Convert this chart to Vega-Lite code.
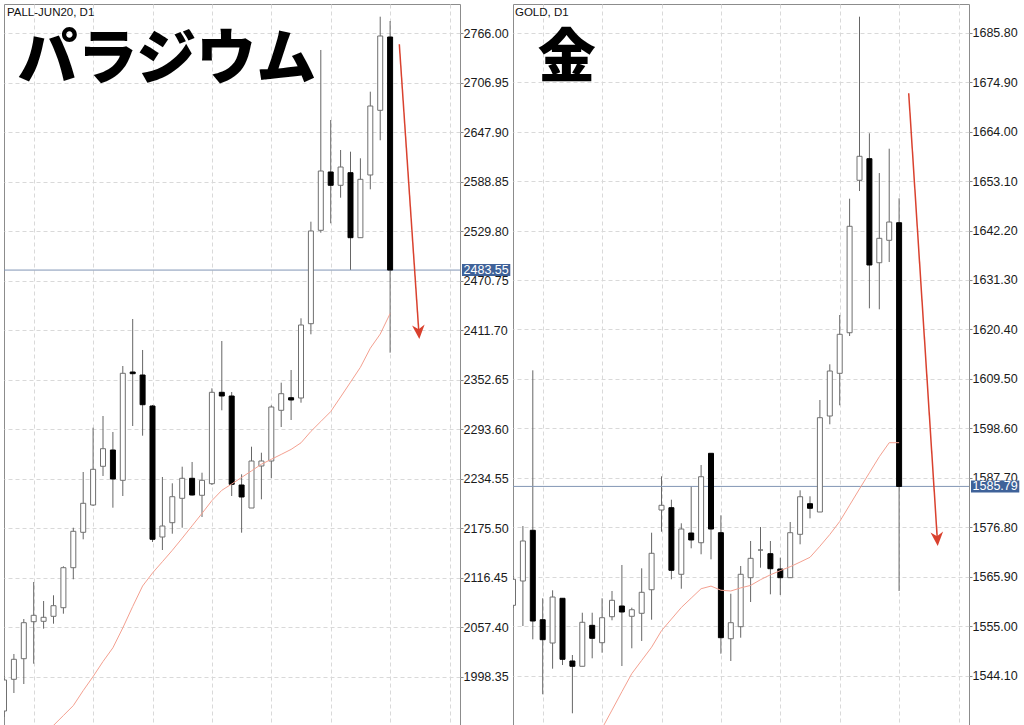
{
  "$schema": "https://vega.github.io/schema/vega-lite/v6.json",
  "background": "white",
  "padding": {"left": 3, "top": 3, "right": 0, "bottom": 0},
  "bounds": "flush",
  "spacing": 53,
  "config": {"view": {"stroke": "#8c8c8c", "strokeWidth": 1}, "scale": {"continuousPadding": 0}},
  "datasets": {
    "pall": [
      {"i":1,"o":1957.55,"h":1999.30,"l":1950.39,"c":1994.54,"d":"up"},
      {"i":2,"o":1995.37,"h":2025.55,"l":1979.02,"c":2019.22,"d":"up"},
      {"i":3,"o":2019.94,"h":2067.30,"l":1989.76,"c":2062.89,"d":"up"},
      {"i":4,"o":2064.08,"h":2111.44,"l":2013.98,"c":2071.71,"d":"up"},
      {"i":5,"o":2064.56,"h":2088.77,"l":2055.73,"c":2069.33,"d":"up"},
      {"i":6,"o":2070.52,"h":2095.57,"l":2061.69,"c":2083.17,"d":"up"},
      {"i":7,"o":2080.78,"h":2130.17,"l":2073.62,"c":2128.50,"d":"up"},
      {"i":8,"o":2128.50,"h":2176.21,"l":2114.66,"c":2171.92,"d":"up"},
      {"i":9,"o":2170.73,"h":2242.66,"l":2162.38,"c":2205.32,"d":"up"},
      {"i":10,"o":2203.29,"h":2295.51,"l":2202.10,"c":2245.88,"d":"up"},
      {"i":11,"o":2249.46,"h":2309.46,"l":2237.89,"c":2270.46,"d":"up"},
      {"i":12,"o":2268.90,"h":2290.38,"l":2200.07,"c":2234.31,"d":"down"},
      {"i":13,"o":2232.76,"h":2369.11,"l":2214.03,"c":2360.40,"d":"up"},
      {"i":14,"o":2361.95,"h":2425.18,"l":2297.53,"c":2359.93,"d":"down"},
      {"i":15,"o":2358.37,"h":2388.20,"l":2285.96,"c":2322.94,"d":"down"},
      {"i":16,"o":2321.39,"h":2322.59,"l":2159.15,"c":2162.38,"d":"down"},
      {"i":17,"o":2165.12,"h":2236.70,"l":2149.61,"c":2178.24,"d":"up"},
      {"i":18,"o":2182.18,"h":2229.18,"l":2169.06,"c":2213.19,"d":"up"},
      {"i":19,"o":2211.29,"h":2248.98,"l":2176.21,"c":2235.14,"d":"up"},
      {"i":20,"o":2235.14,"h":2254.59,"l":2214.63,"c":2215.22,"d":"down"},
      {"i":21,"o":2214.86,"h":2241.82,"l":2188.98,"c":2232.76,"d":"up"},
      {"i":22,"o":2228.70,"h":2342.51,"l":2227.15,"c":2337.74,"d":"up"},
      {"i":23,"o":2337.74,"h":2398.93,"l":2316.26,"c":2333.32,"d":"down"},
      {"i":24,"o":2333.32,"h":2338.09,"l":2214.03,"c":2227.99,"d":"down"},
      {"i":25,"o":2227.15,"h":2239.92,"l":2170.25,"c":2212.84,"d":"down"},
      {"i":26,"o":2199.71,"h":2272.84,"l":2199.71,"c":2255.78,"d":"up"},
      {"i":27,"o":2249.82,"h":2265.68,"l":2210.09,"c":2255.78,"d":"up"},
      {"i":28,"o":2255.78,"h":2322.23,"l":2235.14,"c":2320.20,"d":"up"},
      {"i":29,"o":2316.26,"h":2349.19,"l":2296.34,"c":2336.07,"d":"up"},
      {"i":30,"o":2331.29,"h":2364.34,"l":2304.69,"c":2328.55,"d":"down"},
      {"i":31,"o":2330.94,"h":2426.01,"l":2325.33,"c":2418.02,"d":"up"},
      {"i":32,"o":2419.57,"h":2541.25,"l":2406.93,"c":2530.16,"d":"up"},
      {"i":33,"o":2530.99,"h":2746.08,"l":2528.13,"c":2601.73,"d":"up"},
      {"i":34,"o":2600.54,"h":2662.57,"l":2539.34,"c":2584.67,"d":"down"},
      {"i":35,"o":2584.67,"h":2626.78,"l":2569.88,"c":2606.50,"d":"up"},
      {"i":36,"o":2599.70,"h":2624.76,"l":2483.63,"c":2522.16,"d":"down"},
      {"i":37,"o":2522.16,"h":2616.88,"l":2522.16,"c":2591.83,"d":"up"},
      {"i":38,"o":2596.96,"h":2696.33,"l":2579.90,"c":2679.27,"d":"up"},
      {"i":39,"o":2674.14,"h":2785.80,"l":2638.36,"c":2762.78,"d":"up"},
      {"i":40,"o":2761.58,"h":2780.67,"l":2384.98,"c":2483.55,"d":"down"}
    ],
    "pall_ma": [
      {"i":5,"m":1928.92},{"i":6,"m":1940.37},{"i":7,"m":1952.18},{"i":8,"m":1963.99},
      {"i":9,"m":1981.89},{"i":10,"m":1998.70},{"i":11,"m":2016.60},{"i":12,"m":2032.95},
      {"i":13,"m":2056.68},{"i":14,"m":2082.21},{"i":15,"m":2106.67},{"i":16,"m":2122.17},
      {"i":17,"m":2135.65},{"i":18,"m":2149.25},{"i":19,"m":2163.69},{"i":20,"m":2178.48},
      {"i":21,"m":2193.27},{"i":22,"m":2208.54},{"i":23,"m":2220.83},{"i":24,"m":2228.34},
      {"i":25,"m":2236.22},{"i":26,"m":2243.97},{"i":27,"m":2251.96},{"i":28,"m":2257.81},
      {"i":29,"m":2263.66},{"i":30,"m":2269.62},{"i":31,"m":2277.49},{"i":32,"m":2291.09},
      {"i":33,"m":2302.90},{"i":34,"m":2314.71},{"i":35,"m":2332.13},{"i":36,"m":2349.79},
      {"i":37,"m":2367.56},{"i":38,"m":2390.34},{"i":39,"m":2407.17},{"i":40,"m":2431.62}
    ],
    "gold": [
      {"i":1,"o":1559.58,"h":1566.04,"l":1558.99,"c":1565.32,"d":"up"},
      {"i":2,"o":1564.94,"h":1577.06,"l":1555.02,"c":1573.76,"d":"up"},
      {"i":3,"o":1576.12,"h":1611.38,"l":1552.09,"c":1556.12,"d":"down"},
      {"i":4,"o":1556.41,"h":1561.13,"l":1539.97,"c":1552.00,"d":"down"},
      {"i":5,"o":1551.27,"h":1562.89,"l":1545.61,"c":1561.41,"d":"up"},
      {"i":6,"o":1561.13,"h":1561.13,"l":1546.42,"c":1547.68,"d":"down"},
      {"i":7,"o":1547.31,"h":1548.63,"l":1535.78,"c":1546.14,"d":"down"},
      {"i":8,"o":1546.14,"h":1557.95,"l":1546.14,"c":1555.84,"d":"up"},
      {"i":9,"o":1555.17,"h":1557.95,"l":1547.90,"c":1552.31,"d":"down"},
      {"i":10,"o":1551.34,"h":1561.13,"l":1549.14,"c":1556.85,"d":"up"},
      {"i":11,"o":1557.07,"h":1562.74,"l":1556.28,"c":1560.69,"d":"up"},
      {"i":12,"o":1559.43,"h":1568.47,"l":1546.20,"c":1558.11,"d":"down"},
      {"i":13,"o":1557.16,"h":1559.06,"l":1550.11,"c":1558.61,"d":"up"},
      {"i":14,"o":1557.82,"h":1567.74,"l":1551.72,"c":1562.45,"d":"up"},
      {"i":15,"o":1563.02,"h":1575.59,"l":1556.41,"c":1571.05,"d":"up"},
      {"i":16,"o":1580.59,"h":1588.02,"l":1575.81,"c":1581.63,"d":"up"},
      {"i":17,"o":1581.10,"h":1582.86,"l":1565.32,"c":1567.30,"d":"down"},
      {"i":18,"o":1566.42,"h":1577.66,"l":1563.24,"c":1576.40,"d":"up"},
      {"i":19,"o":1575.52,"h":1585.82,"l":1572.15,"c":1573.98,"d":"down"},
      {"i":20,"o":1573.38,"h":1590.51,"l":1570.83,"c":1587.93,"d":"up"},
      {"i":21,"o":1593.09,"h":1593.09,"l":1569.72,"c":1576.40,"d":"down"},
      {"i":22,"o":1575.59,"h":1579.42,"l":1548.92,"c":1552.44,"d":"down"},
      {"i":23,"o":1552.22,"h":1562.14,"l":1547.31,"c":1555.75,"d":"up"},
      {"i":24,"o":1554.87,"h":1568.25,"l":1552.44,"c":1566.42,"d":"up"},
      {"i":25,"o":1565.67,"h":1573.76,"l":1560.31,"c":1569.94,"d":"up"},
      {"i":26,"o":1571.77,"h":1576.84,"l":1567.87,"c":1571.77,"d":"up"},
      {"i":27,"o":1570.96,"h":1573.76,"l":1562.01,"c":1567.65,"d":"down"},
      {"i":28,"o":1567.59,"h":1570.08,"l":1561.86,"c":1565.67,"d":"down"},
      {"i":29,"o":1565.67,"h":1577.95,"l":1565.67,"c":1575.59,"d":"up"},
      {"i":30,"o":1575.23,"h":1584.93,"l":1573.03,"c":1583.52,"d":"up"},
      {"i":31,"o":1581.98,"h":1583.61,"l":1578.76,"c":1580.97,"d":"down"},
      {"i":32,"o":1580.15,"h":1604.84,"l":1580.15,"c":1600.94,"d":"up"},
      {"i":33,"o":1601.31,"h":1612.71,"l":1599.48,"c":1611.23,"d":"up"},
      {"i":34,"o":1610.72,"h":1623.57,"l":1603.67,"c":1619.32,"d":"up"},
      {"i":35,"o":1619.67,"h":1649.21,"l":1618.95,"c":1643.13,"d":"up"},
      {"i":36,"o":1653.27,"h":1689.33,"l":1650.91,"c":1658.56,"d":"up"},
      {"i":37,"o":1658.03,"h":1663.63,"l":1625.05,"c":1634.60,"d":"down"},
      {"i":38,"o":1635.10,"h":1654.87,"l":1624.83,"c":1640.48,"d":"up"},
      {"i":39,"o":1640.04,"h":1660.23,"l":1635.26,"c":1644.07,"d":"up"},
      {"i":40,"o":1643.92,"h":1649.30,"l":1562.74,"c":1585.79,"d":"down"}
    ],
    "gold_ma": [
      {"i":9,"m":1528.39},{"i":10,"m":1532.45},{"i":11,"m":1536.48},{"i":12,"m":1540.54},
      {"i":13,"m":1544.53},{"i":14,"m":1547.44},{"i":15,"m":1550.35},{"i":16,"m":1553.99},
      {"i":17,"m":1556.54},{"i":18,"m":1559.10},{"i":19,"m":1561.17},{"i":20,"m":1563.24},
      {"i":21,"m":1563.82},{"i":22,"m":1562.91},{"i":23,"m":1562.74},{"i":24,"m":1563.42},
      {"i":25,"m":1563.97},{"i":26,"m":1565.23},{"i":27,"m":1566.31},{"i":28,"m":1567.23},
      {"i":29,"m":1568.09},{"i":30,"m":1569.11},{"i":31,"m":1570.17},{"i":32,"m":1572.61},
      {"i":33,"m":1575.19},{"i":34,"m":1578.06},{"i":35,"m":1581.65},{"i":36,"m":1585.24},
      {"i":37,"m":1588.79},{"i":38,"m":1592.34},{"i":39,"m":1595.43},{"i":40,"m":1595.43}
    ]
  },
  "hconcat": [
    {
      "width": 456,
      "height": 721,
      "layer": [
        {
          "data": {"name": "pall"},
          "mark": {"type": "rule", "color": "#666666", "strokeWidth": 1, "clip": true},
          "encoding": {
            "x": {"field": "i", "type": "quantitative", "scale": {"domain": [1, 47.06], "nice": false, "zero": false, "padding": 0},
                  "axis": {"values": [4,10,16,22,28,34,40,46], "grid": true, "gridDash": [4,3], "gridColor": "#d9d9d9", "labels": false, "ticks": false, "domain": false, "title": null}},
            "y": {"field": "l", "type": "quantitative", "scale": {"domain": [1940.85, 2800.95], "nice": false, "zero": false},
                  "axis": {"orient": "right", "values": [1998.35,2057.4,2116.45,2175.5,2234.55,2293.6,2352.65,2411.7,2470.75,2529.8,2588.85,2647.9,2706.95,2766], "format": ".2f", "title": null, "grid": true, "gridDash": [4,3], "gridColor": "#d9d9d9", "domain": false, "tickSize": 3, "tickColor": "#888888", "labelFont": "Liberation Sans", "labelFontSize": 12.5, "labelColor": "#1a1a1a", "labelPadding": 0}},
            "y2": {"field": "h"}
          }
        },
        {
          "data": {"values": [{"p": 2483.55}]},
          "mark": {"type": "rule", "color": "#8296b5", "strokeWidth": 1},
          "encoding": {
            "y": {"field": "p", "type": "quantitative", "scale": {"domain": [1940.85, 2800.95], "nice": false, "zero": false}}
          }
        },
        {
          "data": {"name": "pall"},
          "mark": {"type": "bar", "size": 5, "strokeWidth": 1, "clip": true},
          "encoding": {
            "x": {"field": "i", "type": "quantitative", "scale": {"domain": [1, 47.06], "nice": false, "zero": false, "padding": 0}},
            "y": {"field": "o", "type": "quantitative", "scale": {"domain": [1940.85, 2800.95], "nice": false, "zero": false}},
            "y2": {"field": "c"},
            "fill": {"field": "d", "type": "nominal", "scale": {"domain": ["up","down"], "range": ["#ffffff","#000000"]}, "legend": null},
            "stroke": {"field": "d", "type": "nominal", "scale": {"domain": ["up","down"], "range": ["#707070","#000000"]}, "legend": null}
          }
        },
        {
          "data": {"name": "pall_ma"},
          "mark": {"type": "line", "color": "#f4a090", "strokeWidth": 1, "clip": true},
          "encoding": {
            "x": {"field": "i", "type": "quantitative", "scale": {"domain": [1, 47.06], "nice": false, "zero": false, "padding": 0}},
            "y": {"field": "m", "type": "quantitative", "scale": {"domain": [1940.85, 2800.95], "nice": false, "zero": false}}
          }
        },
        {
          "data": {"values": [{"p": 2483.55}]},
          "mark": {"type": "point", "shape": "M-1,-0.25L1,-0.25L1,0.25L-1,0.25Z", "size": 2333, "filled": true, "color": "#3f6299", "opacity": 1, "strokeWidth": 0},
          "encoding": {
            "x": {"datum": 49.7, "type": "quantitative", "scale": {"domain": [1, 47.06], "nice": false, "zero": false, "padding": 0}},
            "y": {"field": "p", "type": "quantitative", "scale": {"domain": [1940.85, 2800.95], "nice": false, "zero": false}}
          }
        },
        {
          "data": {"values": [{"p": 2483.55}]},
          "mark": {"type": "text", "color": "#ffffff", "font": "Liberation Sans", "fontSize": 12.5, "align": "center", "baseline": "middle"},
          "encoding": {
            "x": {"datum": 49.7, "type": "quantitative", "scale": {"domain": [1, 47.06], "nice": false, "zero": false, "padding": 0}},
            "y": {"field": "p", "type": "quantitative", "scale": {"domain": [1940.85, 2800.95], "nice": false, "zero": false}},
            "text": {"field": "p", "type": "quantitative", "format": ".2f"}
          }
        },
        {
          "data": {"values": [{}]},
          "mark": {"type": "rule", "color": "#d9412e", "strokeWidth": 1.5},
          "encoding": {
            "x": {"datum": 40.93, "type": "quantitative", "scale": {"domain": [1, 47.06], "nice": false, "zero": false, "padding": 0}},
            "x2": {"datum": 42.9},
            "y": {"datum": 2752.88, "type": "quantitative", "scale": {"domain": [1940.85, 2800.95], "nice": false, "zero": false}},
            "y2": {"datum": 2410}
          }
        },
        {
          "data": {"values": [{}]},
          "mark": {"type": "point", "shape": "M0,0L-0.45,-1L0,-0.7L0.45,-1Z", "size": 784, "filled": true, "color": "#d9412e", "opacity": 1, "strokeWidth": 0, "angle": 356.1},
          "encoding": {
            "x": {"datum": 42.95, "type": "quantitative", "scale": {"domain": [1, 47.06], "nice": false, "zero": false, "padding": 0}},
            "y": {"datum": 2401.32, "type": "quantitative", "scale": {"domain": [1940.85, 2800.95], "nice": false, "zero": false}}
          }
        },
        {
          "data": {"values": [{}]},
          "mark": {"type": "text", "color": "#111111", "font": "Liberation Sans", "fontSize": 11.5, "align": "left", "baseline": "middle"},
          "encoding": {
            "x": {"datum": 1.3, "type": "quantitative", "scale": {"domain": [1, 47.06], "nice": false, "zero": false, "padding": 0}},
            "y": {"datum": 2790.2, "type": "quantitative", "scale": {"domain": [1940.85, 2800.95], "nice": false, "zero": false}},
            "text": {"value": "PALL-JUN20, D1"}
          }
        },
        {
          "data": {"values": [{}]},
          "mark": {"type": "text", "color": "#000000", "font": "Noto Sans CJK JP", "fontWeight": 900, "fontSize": 60, "align": "center", "baseline": "middle"},
          "encoding": {
            "x": {"datum": 17.46, "type": "quantitative", "scale": {"domain": [1, 47.06], "nice": false, "zero": false, "padding": 0}},
            "y": {"datum": 2732.95, "type": "quantitative", "scale": {"domain": [1940.85, 2800.95], "nice": false, "zero": false}},
            "text": {"value": "パラジウム"}
          }
        }
      ]
    },
    {
      "width": 456,
      "height": 721,
      "layer": [
        {
          "data": {"name": "gold"},
          "mark": {"type": "rule", "color": "#666666", "strokeWidth": 1, "clip": true},
          "encoding": {
            "x": {"field": "i", "type": "quantitative", "scale": {"domain": [1, 47.06], "nice": false, "zero": false, "padding": 0},
                  "axis": {"values": [4,10,16,22,28,34,40,46], "grid": true, "gridDash": [4,3], "gridColor": "#d9d9d9", "labels": false, "ticks": false, "domain": false, "title": null}},
            "y": {"field": "l", "type": "quantitative", "scale": {"domain": [1533.2, 1692.13], "nice": false, "zero": false},
                  "axis": {"orient": "right", "values": [1544.1,1555,1565.9,1576.8,1587.7,1598.6,1609.5,1620.4,1631.3,1642.2,1653.1,1664,1674.9,1685.8], "format": ".2f", "title": null, "grid": true, "gridDash": [4,3], "gridColor": "#d9d9d9", "domain": false, "tickSize": 3, "tickColor": "#888888", "labelFont": "Liberation Sans", "labelFontSize": 12.5, "labelColor": "#1a1a1a", "labelPadding": 0}},
            "y2": {"field": "h"}
          }
        },
        {
          "data": {"values": [{"p": 1585.79}]},
          "mark": {"type": "rule", "color": "#8296b5", "strokeWidth": 1},
          "encoding": {
            "y": {"field": "p", "type": "quantitative", "scale": {"domain": [1533.2, 1692.13], "nice": false, "zero": false}}
          }
        },
        {
          "data": {"name": "gold"},
          "mark": {"type": "bar", "size": 5, "strokeWidth": 1, "clip": true},
          "encoding": {
            "x": {"field": "i", "type": "quantitative", "scale": {"domain": [1, 47.06], "nice": false, "zero": false, "padding": 0}},
            "y": {"field": "o", "type": "quantitative", "scale": {"domain": [1533.2, 1692.13], "nice": false, "zero": false}},
            "y2": {"field": "c"},
            "fill": {"field": "d", "type": "nominal", "scale": {"domain": ["up","down"], "range": ["#ffffff","#000000"]}, "legend": null},
            "stroke": {"field": "d", "type": "nominal", "scale": {"domain": ["up","down"], "range": ["#707070","#000000"]}, "legend": null}
          }
        },
        {
          "data": {"name": "gold_ma"},
          "mark": {"type": "line", "color": "#f4a090", "strokeWidth": 1, "clip": true},
          "encoding": {
            "x": {"field": "i", "type": "quantitative", "scale": {"domain": [1, 47.06], "nice": false, "zero": false, "padding": 0}},
            "y": {"field": "m", "type": "quantitative", "scale": {"domain": [1533.2, 1692.13], "nice": false, "zero": false}}
          }
        },
        {
          "data": {"values": [{"p": 1585.79}]},
          "mark": {"type": "point", "shape": "M-1,-0.25L1,-0.25L1,0.25L-1,0.25Z", "size": 2333, "filled": true, "color": "#3f6299", "opacity": 1, "strokeWidth": 0},
          "encoding": {
            "x": {"datum": 49.7, "type": "quantitative", "scale": {"domain": [1, 47.06], "nice": false, "zero": false, "padding": 0}},
            "y": {"field": "p", "type": "quantitative", "scale": {"domain": [1533.2, 1692.13], "nice": false, "zero": false}}
          }
        },
        {
          "data": {"values": [{"p": 1585.79}]},
          "mark": {"type": "text", "color": "#ffffff", "font": "Liberation Sans", "fontSize": 12.5, "align": "center", "baseline": "middle"},
          "encoding": {
            "x": {"datum": 49.7, "type": "quantitative", "scale": {"domain": [1, 47.06], "nice": false, "zero": false, "padding": 0}},
            "y": {"field": "p", "type": "quantitative", "scale": {"domain": [1533.2, 1692.13], "nice": false, "zero": false}},
            "text": {"field": "p", "type": "quantitative", "format": ".2f"}
          }
        },
        {
          "data": {"values": [{}]},
          "mark": {"type": "rule", "color": "#d9412e", "strokeWidth": 1.5},
          "encoding": {
            "x": {"datum": 40.97, "type": "quantitative", "scale": {"domain": [1, 47.06], "nice": false, "zero": false, "padding": 0}},
            "x2": {"datum": 43.85},
            "y": {"datum": 1672.44, "type": "quantitative", "scale": {"domain": [1533.2, 1692.13], "nice": false, "zero": false}},
            "y2": {"datum": 1574.5}
          }
        },
        {
          "data": {"values": [{}]},
          "mark": {"type": "point", "shape": "M0,0L-0.45,-1L0,-0.7L0.45,-1Z", "size": 784, "filled": true, "color": "#d9412e", "opacity": 1, "strokeWidth": 0, "angle": 356.3},
          "encoding": {
            "x": {"datum": 43.9, "type": "quantitative", "scale": {"domain": [1, 47.06], "nice": false, "zero": false, "padding": 0}},
            "y": {"datum": 1572.66, "type": "quantitative", "scale": {"domain": [1533.2, 1692.13], "nice": false, "zero": false}}
          }
        },
        {
          "data": {"values": [{}]},
          "mark": {"type": "text", "color": "#111111", "font": "Liberation Sans", "fontSize": 11.5, "align": "left", "baseline": "middle"},
          "encoding": {
            "x": {"datum": 1.2, "type": "quantitative", "scale": {"domain": [1, 47.06], "nice": false, "zero": false, "padding": 0}},
            "y": {"datum": 1690.14, "type": "quantitative", "scale": {"domain": [1533.2, 1692.13], "nice": false, "zero": false}},
            "text": {"value": "GOLD, D1"}
          }
        },
        {
          "data": {"values": [{}]},
          "mark": {"type": "text", "color": "#000000", "font": "Noto Sans CJK JP", "fontWeight": 900, "fontSize": 58, "align": "center", "baseline": "middle"},
          "encoding": {
            "x": {"datum": 6.42, "type": "quantitative", "scale": {"domain": [1, 47.06], "nice": false, "zero": false, "padding": 0}},
            "y": {"datum": 1679.85, "type": "quantitative", "scale": {"domain": [1533.2, 1692.13], "nice": false, "zero": false}},
            "text": {"value": "金"}
          }
        }
      ]
    }
  ]
}
